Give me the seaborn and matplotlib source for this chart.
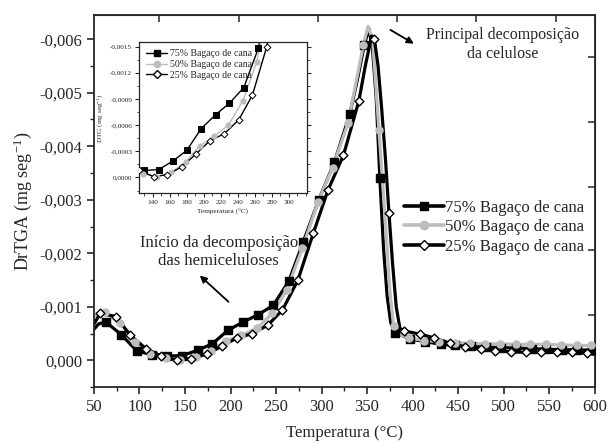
import numpy as np
import pandas as pd
import matplotlib
matplotlib.use("Agg")
import matplotlib.pyplot as plt
from matplotlib.lines import Line2D
from matplotlib.ticker import FuncFormatter, MultipleLocator
import seaborn as sns

sns.set_style("ticks")
plt.rcParams['font.family'] = ['Liberation Serif', 'DejaVu Serif']
plt.rcParams['mathtext.fontset'] = 'stix'

# ---------------- data ----------------
labels = ["75% Bagaço de cana", "50% Bagaço de cana", "25% Bagaço de cana"]

# 75 % (black squares) – marker points
t75 = [63, 80, 97, 114, 130, 147, 164, 180, 197, 214, 230, 247, 264, 280, 297,
       314, 331, 347, 364, 381, 397, 414, 431, 447, 464, 481, 497, 514, 531,
       547, 564, 581, 597]
v75 = [-0.00072, -0.00048, -0.00018, -0.00010, -0.00008, -0.00009, -0.00019,
       -0.00031, -0.00056, -0.00072, -0.00085, -0.00103, -0.00148, -0.00222,
       -0.00300, -0.00370, -0.00460, -0.00590, -0.00340, -0.00052, -0.00040,
       -0.00035, -0.00030, -0.00028, -0.00026, -0.00025, -0.00024, -0.00023,
       -0.00022, -0.00021, -0.00020, -0.00020, -0.00019]
# 75 % – extra line points (peak detail, ends)
t75x = [50, 55, 340, 352, 356, 360, 368, 372, 376, 600]
v75x = [-0.00058, -0.00068, -0.00530, -0.00620, -0.00580, -0.00490,
        -0.00210, -0.00120, -0.00070, -0.00019]

# 50 % (grey circles) – marker points
t50 = [62, 79, 95, 112, 129, 145, 162, 179, 195, 212, 229, 246, 262, 279, 296,
       312, 329, 346, 363, 379, 396, 413, 429, 446, 463, 479, 496, 513, 529,
       546, 563, 580, 596]
v50 = [-0.00090, -0.00070, -0.00035, -0.00012, -0.00004, -0.00001, -0.00006,
       -0.00018, -0.00036, -0.00047, -0.00060, -0.00088, -0.00132, -0.00210,
       -0.00295, -0.00360, -0.00443, -0.00590, -0.00430, -0.00065, -0.00042,
       -0.00037, -0.00035, -0.00033, -0.00032, -0.00031, -0.00031, -0.00030,
       -0.00030, -0.00030, -0.00029, -0.00028, -0.00028]
t50x = [50, 55, 351, 356, 370, 375, 386, 600]
v50x = [-0.00082, -0.00088, -0.00624, -0.00600, -0.00260, -0.00130,
        -0.00048, -0.00028]

# 25 % (open diamonds) – marker points
t25 = [57, 74, 90, 107, 124, 141, 157, 174, 191, 207, 224, 241, 257, 274, 291,
       307, 324, 341, 358, 374, 391, 408, 424, 441, 458, 475, 491, 508, 525,
       541, 558, 575, 592]
v25 = [-0.00088, -0.00082, -0.00047, -0.00022, -0.00008, -0.00001, -0.00003,
       -0.00012, -0.00027, -0.00042, -0.00050, -0.00066, -0.00094, -0.00150,
       -0.00238, -0.00318, -0.00383, -0.00485, -0.00600, -0.00275, -0.00055,
       -0.00049, -0.00042, -0.00032, -0.00025, -0.00021, -0.00018, -0.00016,
       -0.00015, -0.00015, -0.00015, -0.00015, -0.00014]
t25x = [50, 348, 355, 362, 366, 370, 378, 382, 386, 600]
v25x = [-0.00068, -0.00550, -0.00606, -0.00550, -0.00470, -0.00380,
        -0.00180, -0.00100, -0.00060, -0.00011]

main_xticks = [50, 100, 150, 200, 250, 300, 350, 400, 450, 500, 550, 600]
main_yticks = [0.0, -0.001, -0.002, -0.003, -0.004, -0.005, -0.006]
inset_xticks = [140, 160, 180, 200, 220, 240, 260, 280, 300]
inset_yticks = [0.0, -0.0003, -0.0006, -0.0009, -0.0012, -0.0015]
top_ticks = [121, 209, 296, 383, 470, 557]
right_ticks = [-0.00566, -0.00445, -0.00323, -0.00206, -0.00084]

# ---------------- frames ----------------
def line_df(t, v, tx, vx):
    d = pd.DataFrame({"T": list(t) + list(tx), "v": list(v) + list(vx)})
    return d.sort_values("T").reset_index(drop=True)

mark_dfs = [pd.DataFrame({"T": t75, "v": v75}),
            pd.DataFrame({"T": t50, "v": v50}),
            pd.DataFrame({"T": t25, "v": v25})]
line_dfs = [line_df(t75, v75, t75x, v75x),
            line_df(t50, v50, t50x, v50x),
            line_df(t25, v25, t25x, v25x)]

styles = [dict(color="black", marker="s", mfc="black", mec="black"),
          dict(color="#bdbdbd", marker="o", mfc="#bdbdbd", mec="#bdbdbd"),
          dict(color="black", marker="D", mfc="white", mec="black")]

def comma_fmt(nd):
    def f(v, p):
        if abs(v) < 1e-12:
            v = 0.0
        return f"{v:.{nd}f}".replace(".", ",")
    return FuncFormatter(f)

fig = plt.figure(figsize=(6.10, 4.44), dpi=100)
ax = fig.add_axes([0.154, 0.128, 0.821, 0.838])

def draw(axx, lw, ms_area, mew, diamond_area):
    for ld, md, st in zip(line_dfs, mark_dfs, styles):
        sns.lineplot(data=ld, x="T", y="v", ax=axx, estimator=None, sort=False,
                     color=st["color"], lw=lw, legend=False)
        area = diamond_area if st["marker"] == "D" else ms_area
        sns.scatterplot(data=md, x="T", y="v", ax=axx, marker=st["marker"],
                        s=area, color=st["mfc"], edgecolor=st["mec"],
                        linewidth=mew, zorder=3, legend=False)

draw(ax, 2.3, 26, 1.0, 20)

ax.set_xlim(50, 600)
ax.set_ylim(0.0005, -0.00645)
ax.set_xticks(main_xticks)
ax.set_yticks(main_yticks)
ax.xaxis.set_minor_locator(MultipleLocator(25))
ax.yaxis.set_minor_locator(MultipleLocator(0.0005))
ax.yaxis.set_major_formatter(comma_fmt(3))
ax.tick_params(which="major", direction="out", length=5, width=1.2,
               labelsize=12, top=False, right=False)
ax.tick_params(which="minor", direction="out", length=3, width=1.0,
               top=False, right=False)
for s in ax.spines.values():
    s.set_visible(True)
    s.set_linewidth(1.3)
ax.set_xlabel("Temperatura (°C)", fontsize=12, labelpad=7)
ax.set_ylabel(r"DrTGA (mg seg$^{\mathregular{-1}}$)", fontsize=13, labelpad=4)

secx = ax.secondary_xaxis("top")
secx.set_xticks(top_ticks)
secx.tick_params(direction="in", length=5, width=1.1, labeltop=False)
secy = ax.secondary_yaxis("right")
secy.set_yticks(right_ticks)
secy.tick_params(direction="in", length=5, width=1.1, labelright=False)

# annotations
ax.annotate("", xy=(404, -0.00589), xytext=(373, -0.00620),
            arrowprops=dict(arrowstyle="-|>", color="black", lw=1.3,
                            mutation_scale=10))
ax.text(499, -0.00591, "Principal decomposição\nda celulose", ha="center",
        va="center", fontsize=11.5, linespacing=1.25)
ax.annotate("", xy=(164, -0.00162), xytext=(200, -0.00106),
            arrowprops=dict(arrowstyle="-|>", color="black", lw=1.3,
                            mutation_scale=10))
ax.text(187, -0.00202, "Início da decomposição\ndas hemiceluloses", ha="center",
        va="center", fontsize=12, linespacing=1.2)

handles = [Line2D([], [], color=st["color"], lw=2.6, marker=st["marker"],
                  markerfacecolor=st["mfc"], markeredgecolor=st["mec"],
                  markersize=6 if st["marker"] != "D" else 5.5)
           for st in styles]
ax.legend(handles, labels, loc="center left", bbox_to_anchor=(0.605, 0.43),
          frameon=False, fontsize=12, handlelength=2.4, handletextpad=0.1,
          labelspacing=0.2, borderaxespad=0)

# ---------------- inset ----------------
ins = fig.add_axes([0.228, 0.565, 0.275, 0.34])
draw(ins, 1.0, 14, 0.7, 12)
ins.set_xlim(124, 321)
ins.set_ylim(0.00018, -0.00155)
ins.set_xticks(inset_xticks)
ins.set_yticks(inset_yticks)
ins.xaxis.set_minor_locator(MultipleLocator(10))
ins.yaxis.set_minor_locator(MultipleLocator(0.00015))
ins.yaxis.set_major_formatter(comma_fmt(4))
ins.tick_params(which="major", direction="out", length=3, width=0.8,
                labelsize=5.2, pad=2, right=True)
ins.tick_params(which="minor", direction="out", length=1.8, width=0.6,
                right=True)
for s in ins.spines.values():
    s.set_visible(True)
    s.set_linewidth(0.9)
ins.set_xlabel("Temperatura (°C)", fontsize=5.2, labelpad=3)
ins.set_ylabel(r"DTG (mg seg$^{\mathregular{-1}}$)", fontsize=5.2, labelpad=3)
ih = [Line2D([], [], color=st["color"], lw=1.0, marker=st["marker"],
             markerfacecolor=st["mfc"], markeredgecolor=st["mec"],
             markersize=4.5 if st["marker"] != "D" else 4)
      for st in styles]
ins.legend(ih, labels, loc="upper left", frameon=False, fontsize=7,
           handlelength=2.2, handletextpad=0.3, labelspacing=0.2,
           borderaxespad=0.3)

fig.savefig("out.png", dpi=100)
